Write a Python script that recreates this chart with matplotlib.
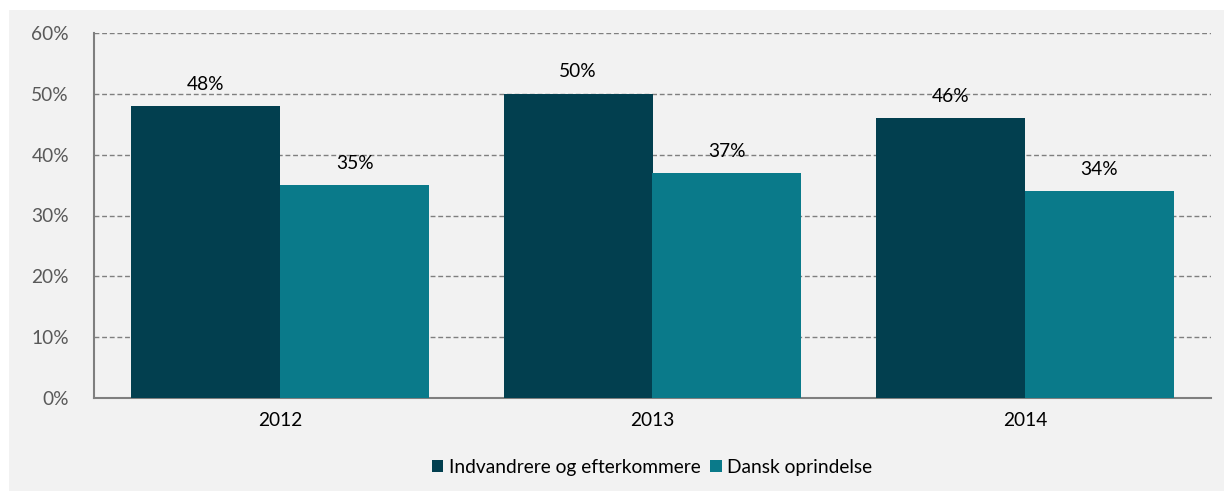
import matplotlib.pyplot as plt
import numpy as np
from matplotlib.patches import Rectangle

plt.rcParams['font.family'] = ['Lato', 'DejaVu Sans']

years = ['2012', '2013', '2014']
indvandrere = [48, 50, 46]
dansk = [35, 37, 34]
series_names = ['Indvandrere og efterkommere', 'Dansk oprindelse']
yticks = [0, 10, 20, 30, 40, 50, 60]

dark = '#023F4F'
teal = '#0A7A8A'
bg = '#F2F2F2'
grey = '#595959'
fs = 13.8

fig = plt.figure(figsize=(12.24, 4.91), dpi=100)
fig.patch.set_facecolor('white')
# grey chart panel
fig.patches.append(Rectangle((9 / 1224, 0), 1, (491 - 10) / 491,
                             transform=fig.transFigure, facecolor=bg,
                             edgecolor='none', zorder=-10))

ax = fig.add_axes([94 / 1224, 93 / 491, (1211 - 94) / 1224, (398 - 33) / 491])
ax.set_facecolor(bg)

x = np.arange(len(years))
w = 0.4
b1 = ax.bar(x - w / 2, indvandrere, w, color=dark, label=series_names[0], zorder=3)
b2 = ax.bar(x + w / 2, dansk, w, color=teal, label=series_names[1], zorder=3)

for bars in (b1, b2):
    for rect in bars:
        h = rect.get_height()
        ax.text(rect.get_x() + rect.get_width() / 2, h + 2.2, f'{h:.0f}%',
                ha='center', va='bottom', fontsize=fs, color='black')

ax.set_xlim(-0.5, 2.5)
ax.set_ylim(0, 60)
ax.set_yticks(yticks)
ax.set_yticklabels([f'{v}%' for v in yticks], color=grey, fontsize=fs)
ax.set_xticks(x)
ax.set_xticklabels(years, fontsize=fs, color='black')
ax.tick_params(axis='x', length=0, pad=10)
ax.tick_params(axis='y', length=0, pad=18)

ax.grid(axis='y', color='#7F7F7F', linestyle=(0, (3.5, 2)), linewidth=1, zorder=0)
for s in ['top', 'right']:
    ax.spines[s].set_visible(False)
for s in ['left', 'bottom']:
    ax.spines[s].set_color('#7F7F7F')
    ax.spines[s].set_linewidth(1.5)

leg = fig.legend(loc='center', bbox_to_anchor=(652 / 1224, 1 - 467 / 491),
                 ncol=2, frameon=False, fontsize=fs, handlelength=0.6,
                 handleheight=0.6, handletextpad=0.3, columnspacing=0.5)

fig.savefig('out.png', dpi=100, facecolor=fig.get_facecolor())
